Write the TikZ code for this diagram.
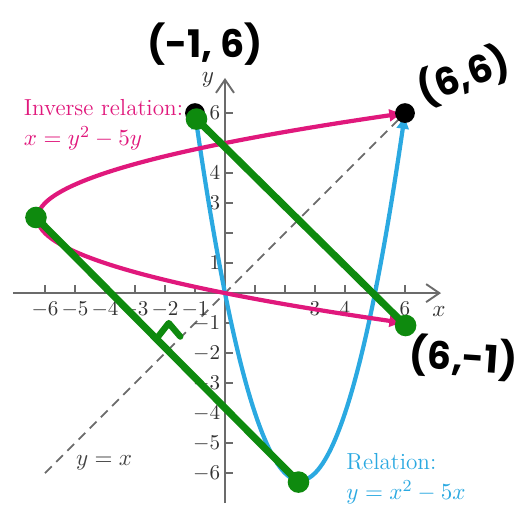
\documentclass[tikz,border=0pt]{standalone}
\usepackage{fontspec}
\newfontfamily\handfont{Poppins}
\usepackage{amsmath}
\usetikzlibrary{arrows.meta}
\definecolor{invpink}{HTML}{E0187C}
\definecolor{relblue}{HTML}{2BA9E1}
\definecolor{pengreen}{HTML}{0E8A0E}
\definecolor{axisgray}{HTML}{6B6B6B}

\begin{document}
\begin{tikzpicture}[
      x=0.5cm, y=0.5cm,
      font=\fontsize{11}{14.2}\selectfont,
      axis/.style={draw=axisgray, line width=0.9pt, -{Straight Barb[length=2.2mm, width=3mm]}},
      tickmark/.style={draw=axisgray, line width=0.7pt},
      ticklbl/.style={font=\fontsize{10}{10}\selectfont, text=black!80, inner sep=1pt},
      rel/.style={draw=relblue, line width=2pt, {Latex[length=2.6mm, width=2.2mm]}-{Latex[length=2.6mm, width=2.2mm]}},
      inv/.style={draw=invpink, line width=2pt, {Latex[length=2.6mm, width=2.2mm]}-{Latex[length=2.6mm, width=2.2mm]}},
      diag/.style={draw=axisgray, line width=0.9pt, dash pattern=on 4.5pt off 3pt},
      pen/.style={draw=pengreen, line width=3.4pt, line cap=round, line join=round},
      gdot/.style={circle, fill=pengreen, inner sep=0pt, minimum size=0.36cm},
      kdot/.style={circle, fill=black, inner sep=0pt, minimum size=0.33cm},
      handlbl/.style={font=\handfont\bfseries\fontsize{18}{18}\selectfont, inner sep=0pt},
    ]
    \useasboundingbox (-7.5,-7.1) rectangle (9.7,9.77);

    % y = x
    \draw[diag] (-6,-6) -- (5.8,5.8);

    % axes
    \draw[axis] (-7.07,0) -- (7.2,0);
    \draw[axis] (0,-7.0) -- (0,7.17);
    \foreach \i in {-6,...,-1,1,2,...,6} {
      \draw[tickmark] (\i,0) -- (\i,0.27);
      \draw[tickmark] (0,\i) -- (0.27,\i);
    }
    \foreach \i in {-6,...,-1,3,4,6}
      \node[ticklbl, anchor=north] at (\i,-0.2) {$\i$};
    \foreach \i in {-6,...,-1,1,3,4,6}
      \node[ticklbl, anchor=east] at (-0.08,\i) {$\i$};
    \node[ticklbl, font=\fontsize{11}{11}\selectfont] (xlbl) at (7.13,-0.63) {$x$};
    \node[ticklbl, font=\fontsize{11}{11}\selectfont] (ylbl) at (-0.57,7.1) {$y$};

    % the two curves
    \draw[rel, domain=-1:6, samples=71, smooth, variable=\t] plot (\t,{\t*\t-5*\t});
    \draw[inv, domain=-1:6, samples=71, smooth, variable=\t] plot ({\t*\t-5*\t},\t);

    % labels
    \node[text=invpink, align=left, anchor=west] (invlbl) at (-6.95,5.6)
      {Inverse relation:\\$x = y^2 - 5y$};
    \node[text=relblue, align=left, anchor=west] (rellbl) at (3.8,-6.2)
      {Relation:\\$y = x^2 - 5x$};
    \node[text=black!75] (diaglbl) at (-4.03,-5.67) {$y = x$};

    % points
    \node[kdot] (ptA) at (-1,6) {};
    \node[kdot] (ptB) at (6,6) {};
    \node[gdot] (ptA2) at (-0.95,5.8) {};
    \node[gdot] (ptC) at (6.02,-1.08) {};
    \node[gdot] (vtxinv) at (-6.3,2.52) {};
    \node[gdot] (vtxrel) at (2.45,-6.3) {};

    % pen strokes
    \draw[pen] (ptA2.center) -- (ptC.center);
    \draw[pen] (vtxinv.center) -- (vtxrel.center);
    \draw[pen, line width=3pt] (-2.26,-1.49) -- (-1.875,-1.0) -- (-1.49,-1.45);

    % handwritten coordinates
    \node[handlbl] (lblA) at (-0.67,8.3) {(-1, 6)};
    \node[handlbl, rotate=20] (lblB) at (7.95,7.25) {(6,6)};
    \node[handlbl, rotate=-4] (lblC) at (7.95,-2.15) {(6,-1)};
  \end{tikzpicture}
\end{document}
